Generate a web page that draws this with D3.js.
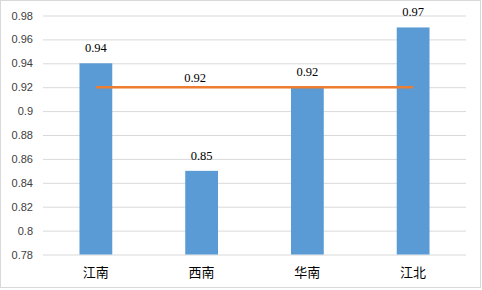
<!DOCTYPE html>
<html><head><meta charset="utf-8">
<script src="https://cdn.jsdelivr.net/npm/d3@7"></script>
<style>body{margin:0;background:#fff}</style>
</head><body>
<svg id="c" width="482" height="290"></svg>
<script>
const categories = ["江南","西南","华南","江北"];
const barValues = [0.94, 0.85, 0.92, 0.97];
const avgValues = [0.92, 0.92, 0.92, 0.92];
const yTicks = [0.78,0.8,0.82,0.84,0.86,0.88,0.9,0.92,0.94,0.96,0.98];

const svg = d3.select("#c");
svg.append("rect").attr("x",0.5).attr("y",0.5).attr("width",480).attr("height",287)
  .attr("fill","#fff").attr("stroke","#d9d9d9");

const m = {l:43, r:16, t:15.5, b:35.5};
const W = 482, H = 290;
const x = d3.scaleBand().domain(categories).range([m.l, W-m.r]).paddingInner(0.69).paddingOuter(0.345);
const y = d3.scaleLinear().domain([0.78,0.98]).range([H-m.b, m.t]);

// gridlines
const yAxis = d3.axisLeft(y).tickValues(yTicks).tickSize(-(W-m.r-m.l)).tickFormat(d=>d3.format("")(+d.toFixed(2)));
const gy = svg.append("g").attr("transform",`translate(${m.l},0)`).call(yAxis);
gy.select(".domain").remove();
gy.selectAll(".tick line").attr("stroke","#d9d9d9");
gy.selectAll(".tick text").attr("x",-10).attr("font-family","'Liberation Sans',Arial,sans-serif")
  .attr("font-size",11).attr("fill","#404040");

// bars
svg.selectAll("rect.bar").data(categories).join("rect").attr("class","bar")
  .attr("x",d=>x(d)).attr("width",x.bandwidth())
  .attr("y",(d,i)=>y(barValues[i])).attr("height",(d,i)=>y(0.78)-y(barValues[i]))
  .attr("fill","#5b9bd5");

// bar labels
svg.selectAll("text.bl").data(categories).join("text").attr("class","bl")
  .attr("x",d=>x(d)+x.bandwidth()/2).attr("y",(d,i)=>y(barValues[i])-11)
  .attr("text-anchor","middle").attr("font-family","'Liberation Serif','Times New Roman',serif")
  .attr("font-size",12.5).attr("fill","#000").text((d,i)=>barValues[i].toFixed(2));

// average line
const line = d3.line().x((d,i)=>x(categories[i])+x.bandwidth()/2).y(d=>y(d));
svg.append("path").datum(avgValues).attr("d",line).attr("fill","none")
  .attr("stroke","#ed7d31").attr("stroke-width",2.5);
svg.append("text").attr("x",x(categories[1])+x.bandwidth()/2-6.5).attr("y",y(avgValues[1])-5)
  .attr("text-anchor","middle").attr("font-family","'Liberation Serif','Times New Roman',serif")
  .attr("font-size",12.5).attr("fill","#000").text(avgValues[1].toFixed(2));

// category labels
svg.selectAll("text.cl").data(categories).join("text").attr("class","cl")
  .attr("x",d=>x(d)+x.bandwidth()/2).attr("y",H-m.b+22)
  .attr("text-anchor","middle").attr("font-family","'Noto Sans CJK SC',sans-serif")
  .attr("font-size",13).attr("fill","#000").text(d=>d);
</script>
</body></html>
